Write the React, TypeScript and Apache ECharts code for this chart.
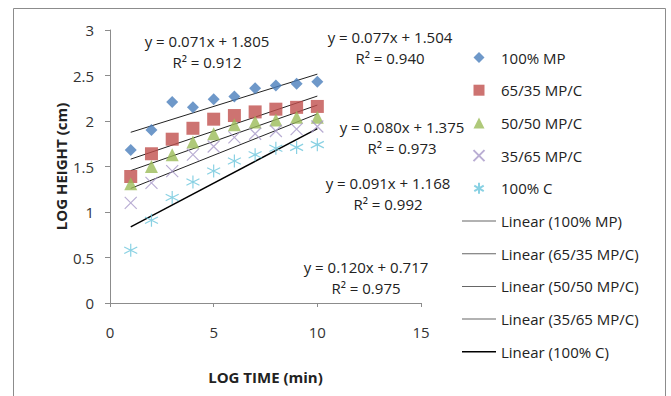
import React, { useEffect, useRef } from "react";
import * as echarts from "echarts";

const seriesNames = ["100% MP", "65/35 MP/C", "50/50 MP/C", "35/65 MP/C", "100% C"];
const xValues = [1, 2, 3, 4, 5, 6, 7, 8, 9, 10];
const mp100 = [1.68, 1.9, 2.21, 2.15, 2.24, 2.27, 2.36, 2.39, 2.41, 2.43];
const mp65 = [1.39, 1.64, 1.8, 1.92, 2.02, 2.06, 2.1, 2.13, 2.15, 2.16];
const mp50 = [1.31, 1.5, 1.63, 1.77, 1.86, 1.96, 1.99, 2.01, 2.04, 2.04];
const mp35 = [1.1, 1.32, 1.45, 1.63, 1.72, 1.82, 1.86, 1.89, 1.91, 1.94];
const c100 = [0.58, 0.91, 1.16, 1.33, 1.45, 1.56, 1.63, 1.7, 1.71, 1.74];
const slopes = [0.071, 0.077, 0.08, 0.091, 0.12];
const intercepts = [1.805, 1.504, 1.375, 1.168, 0.717];
const r2Values = [0.912, 0.94, 0.973, 0.992, 0.975];
const trendRange = [1, 10];

const FONT = "'Open Sans', 'Liberation Sans', sans-serif";

export default function App() {
  const ref = useRef<HTMLDivElement>(null);
  useEffect(() => {
    document.body.style.margin = "0";
    if (!ref.current) return;
    const chart = echarts.init(ref.current, null, { renderer: "svg" });
    const values = [mp100, mp65, mp50, mp35, c100];
    const colors = ["#4a7ebb", "#c0504d", "#9bbb59", "#a898c8", "#6cc6dc"];
    const symbols = [
      "diamond",
      "rect",
      "triangle",
      "path://M0,0L10,10M10,0L0,10",
      "path://M5,0L5,10M0.7,2.5L9.3,7.5M0.7,7.5L9.3,2.5",
    ];
    const legendIcons = [
      "path://M5,0L10,5L5,10L0,5Z",
      "path://M0,0L10,0L10,10L0,10Z",
      "path://M5,0L10,10L0,10Z",
      "path://M0,0L10,10M10,0L0,10",
      "path://M5,0L5,10M0.7,2.5L9.3,7.5M0.7,7.5L9.3,2.5",
    ];
    const sizes = [12, 13, 13, 12, 13];
    const scatter = values.map((vals, i) => ({
      name: seriesNames[i],
      type: "scatter",
      data: xValues.map((x, j) => [x, vals[j]]),
      symbol: symbols[i],
      symbolSize: sizes[i],
      itemStyle:
        i < 3
          ? { color: colors[i] }
          : { color: "rgba(0,0,0,0)", borderColor: colors[i], borderWidth: 1.2 },
      z: 3,
    }));
    const trendColors = ["#222", "#222", "#222", "#222", "#000"];
    const trends = slopes.map((s, i) => ({
      name: "Linear (" + seriesNames[i] + ")",
      type: "line",
      data: trendRange.map((x) => [x, s * x + intercepts[i]]),
      symbol: "none",
      showSymbol: false,
      lineStyle: { color: trendColors[i], width: i < 4 ? 1 : 1.4 },
      itemStyle: { color: i < 4 ? "#666" : "#000" },
      z: 2,
    }));
    const legendData = [
      ...seriesNames.map((n, i) => ({ name: n, icon: legendIcons[i] })),
      ...seriesNames.map((n, i) => ({
        name: "Linear (" + n + ")",
        icon: i < 4 ? "path://M0,0L34,0L34,1L0,1Z" : "path://M0,0L34,0L34,1.6L0,1.6Z",
        itemStyle: { borderWidth: 0 },
      })),
    ];
    const eqPos = [
      [207, 41],
      [390, 37],
      [402, 127],
      [388, 183],
      [366, 267],
    ];
    const eqTexts: any[] = [];
    slopes.forEach((s, i) => {
      eqTexts.push({
        type: "text",
        x: eqPos[i][0],
        y: eqPos[i][1],
        style: {
          text: "y = " + s.toFixed(3) + "x + " + intercepts[i].toFixed(3),
          font: "15px " + FONT,
          fill: "#222",
          textAlign: "center",
          textVerticalAlign: "middle",
        },
      });
      eqTexts.push({
        type: "text",
        x: eqPos[i][0],
        y: eqPos[i][1] + 21,
        style: {
          text: "R² = " + r2Values[i].toFixed(3),
          font: "15px " + FONT,
          fill: "#222",
          textAlign: "center",
          textVerticalAlign: "middle",
        },
      });
    });
    chart.setOption({
      animation: false,
      textStyle: { fontFamily: FONT },
      grid: { left: 110, right: 250, top: 30, bottom: 93 },
      xAxis: {
        type: "value",
        min: 0,
        max: 15,
        interval: 5,
        name: "LOG TIME (min)",
        nameLocation: "middle",
        nameGap: 66,
        nameTextStyle: { fontWeight: "bold", fontSize: 15, color: "#222", fontFamily: FONT },
        axisLine: { show: true, lineStyle: { color: "#8c8c8c" } },
        axisTick: { show: true, inside: false, length: 4, lineStyle: { color: "#8c8c8c" } },
        axisLabel: { margin: 21, fontSize: 15, color: "#333", fontFamily: FONT },
        splitLine: { show: false },
      },
      yAxis: {
        type: "value",
        min: 0,
        max: 3,
        interval: 0.5,
        name: "LOG HEIGHT (cm)",
        nameLocation: "middle",
        nameRotate: 90,
        nameGap: 42,
        nameTextStyle: { fontWeight: "bold", fontSize: 15, color: "#222", fontFamily: FONT },
        axisLine: { show: true, lineStyle: { color: "#8c8c8c" } },
        axisTick: { show: true, inside: false, length: 5, lineStyle: { color: "#8c8c8c" } },
        axisLabel: { margin: 16, fontSize: 15, color: "#333", fontFamily: FONT },
        splitLine: { show: false },
      },
      legend: {
        orient: "vertical",
        left: 457,
        top: 45,
        itemWidth: 34,
        itemHeight: 11,
        itemGap: 17.7,
        symbolKeepAspect: true,
        textStyle: { fontSize: 15, color: "#222", fontFamily: FONT, lineHeight: 15 },
        data: legendData,
      },
      graphic: [
        {
          type: "rect",
          shape: { x: 13.5, y: 8.5, width: 652, height: 420 },
          style: { fill: "none", stroke: "#8c8c8c", lineWidth: 1 },
          silent: true,
        },
        ...eqTexts,
      ],
      series: [...trends, ...scatter],
    });
    return () => chart.dispose();
  }, []);
  return <div ref={ref} style={{ width: 671, height: 396 }} />;
}
